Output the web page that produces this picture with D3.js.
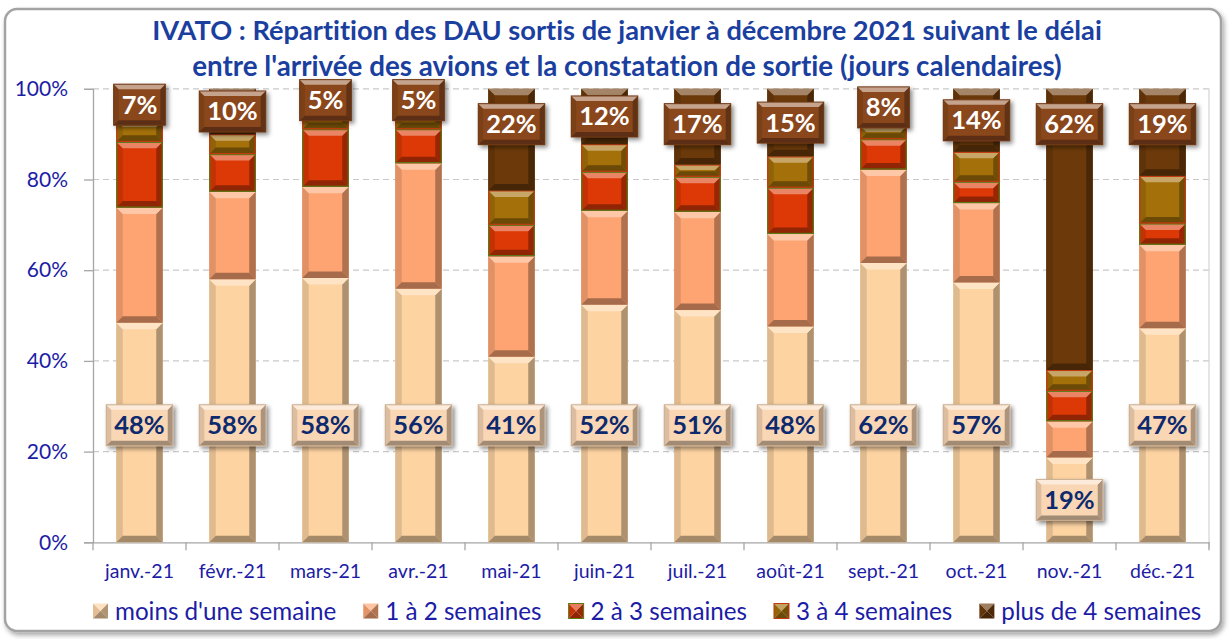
<!DOCTYPE html>
<html>
<head>
<meta charset="utf-8">
<script src="https://cdn.jsdelivr.net/npm/d3@7"></script>
<style>
  html, body { margin: 0; padding: 0; background: #ffffff; }
  svg { display: block; }
  text { font-variant-ligatures: none; font-feature-settings: "liga" 0; }
</style>
</head>
<body>
<svg id="chart" width="1229" height="639"></svg>
<script>
// ---- data -------------------------------------------------------------
const months = ["janv.-21", "févr.-21", "mars-21", "avr.-21", "mai-21", "juin-21",
                "juil.-21", "août-21", "sept.-21", "oct.-21", "nov.-21", "déc.-21"];
const seriesNames = ["moins d'une semaine", "1 à 2 semaines", "2 à 3 semaines",
                     "3 à 4 semaines", "plus de 4 semaines"];
// share of DAU (%) per delay class, per month
const moinsUneSemaine = [48.4, 58.0, 58.3, 55.9, 40.9, 52.4, 51.2, 47.6, 61.6, 57.3, 18.7, 47.2];
const unADeuxSemaines = [25.4, 19.3, 20.1, 27.7, 22.2, 20.7, 21.7, 20.4, 20.6, 17.5, 8.0, 18.4];
const deuxATroisSemaines = [14.5, 8.3, 12.7, 7.5, 6.9, 8.6, 7.7, 10.2, 6.7, 4.7, 6.7, 4.7];
const troisAQuatreSemaines = [4.7, 4.4, 3.9, 3.9, 7.6, 6.1, 2.7, 6.9, 2.9, 6.6, 4.6, 10.5];
const plusDeQuatreSemaines = [7.0, 10.0, 5.0, 5.0, 22.4, 12.2, 16.7, 14.9, 8.2, 13.9, 62.0, 19.2];
const yTickValues = [0, 20, 40, 60, 80, 100];
const titleLines = ["IVATO : Répartition des DAU sortis de janvier à décembre 2021 suivant le délai",
                    "entre l'arrivée des avions et la constatation de sortie (jours calendaires)"];

// ---- styling ----------------------------------------------------------
const faces = ["#fdd3a2", "#fea472", "#dc3906", "#a4700a", "#6c3a0a"];
const outlines = [null, null, "#5c7a18", "#c23a10", null];
const textBlue = "#1c1ca6";
const titleBlue = "#1b3f9f";
const FONT = "Lato, 'Open Sans', 'DejaVu Sans', sans-serif";

const svg = d3.select("#chart");
const margin = { left: 93, top: 88.8 };
const plotRight = 1209;
const plotBottom = 542.3;

const defs = svg.append("defs");
const shadow = defs.append("filter").attr("id", "boxShadow")
  .attr("x", "-20%").attr("y", "-20%").attr("width", "150%").attr("height", "160%");
shadow.append("feDropShadow").attr("dx", 2.5).attr("dy", 2.5).attr("stdDeviation", 2)
  .attr("flood-color", "#000").attr("flood-opacity", 0.45);
const frameShadow = defs.append("filter").attr("id", "frameShadow")
  .attr("x", "-5%").attr("y", "-5%").attr("width", "110%").attr("height", "110%");
frameShadow.append("feDropShadow").attr("dx", 2).attr("dy", 3).attr("stdDeviation", 2.5)
  .attr("flood-color", "#000").attr("flood-opacity", 0.35);

// outer chart frame
svg.append("rect")
  .attr("x", 5).attr("y", 9).attr("width", 1216).attr("height", 622)
  .attr("rx", 12).attr("fill", "#ffffff")
  .attr("stroke", "#a3a3a3").attr("stroke-width", 2.5)
  .attr("filter", "url(#frameShadow)");

// ---- scales -----------------------------------------------------------
const x = d3.scaleBand().domain(months)
  .range([margin.left, plotRight]).paddingInner(0.5).paddingOuter(0.25);
const y = d3.scaleLinear().domain([0, 100]).range([plotBottom, margin.top]);

// gridlines
svg.append("g").selectAll("line").data(yTickValues.filter(v => v > 0)).join("line")
  .attr("x1", margin.left).attr("x2", plotRight)
  .attr("y1", d => y(d)).attr("y2", d => y(d))
  .attr("stroke", "#c9c9c9").attr("stroke-width", 1.2).attr("stroke-dasharray", "6,4");

// plot-area right edge
svg.append("line").attr("x1", plotRight).attr("x2", plotRight)
  .attr("y1", margin.top).attr("y2", plotBottom + 6)
  .attr("stroke", "#d4d4d4").attr("stroke-width", 1.2);

// ---- axes -------------------------------------------------------------
const yAxis = svg.append("g").attr("transform", `translate(${margin.left},0)`)
  .call(d3.axisLeft(y).tickValues(yTickValues).tickSize(9).tickFormat(d => d + "%"));
yAxis.select(".domain").attr("stroke", "#a6a6a6").attr("stroke-width", 1.3);
yAxis.selectAll(".tick line").attr("stroke", "#a6a6a6").attr("stroke-width", 1.3);
yAxis.selectAll(".tick text").attr("x", -25)
  .attr("fill", textBlue).attr("font-family", FONT).attr("font-size", 21);

const xAxis = svg.append("g").attr("transform", `translate(0,${plotBottom})`)
  .call(d3.axisBottom(x).tickSize(0).tickPadding(22));
xAxis.select(".domain").attr("stroke", "#a6a6a6").attr("stroke-width", 1.3);
xAxis.selectAll(".tick text").attr("fill", textBlue)
  .attr("font-family", FONT).attr("font-size", 19.5);
// category separator ticks
const step = x.step();
svg.append("g").selectAll("line").data(d3.range(months.length + 1)).join("line")
  .attr("x1", i => margin.left + i * step).attr("x2", i => margin.left + i * step)
  .attr("y1", plotBottom).attr("y2", plotBottom + 8)
  .attr("stroke", "#a6a6a6").attr("stroke-width", 1.3);

// ---- stacked bars -----------------------------------------------------
const seriesArrays = [moinsUneSemaine, unADeuxSemaines, deuxATroisSemaines,
                      troisAQuatreSemaines, plusDeQuatreSemaines];
const rows = months.map((m, i) => {
  const r = { month: m };
  seriesNames.forEach((s, k) => { r[s] = seriesArrays[k][i]; });
  return r;
});
const stacked = d3.stack().keys(seriesNames)(rows);

// draws a bevelled (raised) rectangle
function bevelRect(g, x0, y0, w, h, face, b, opts = {}) {
  const top = d3.interpolateRgb(face, "#ffffff")(opts.topLight ?? 0.38);
  const left = d3.color(face).darker(0.35).formatHex();
  const right = d3.color(face).darker(1.05).formatHex();
  const bottom = d3.color(face).darker(1.2).formatHex();
  b = Math.max(0, Math.min(b, h / 2.2, w / 2.2));
  const x1 = x0 + w, y1 = y0 + h;
  g.append("rect").attr("x", x0).attr("y", y0).attr("width", w).attr("height", h)
    .attr("fill", face);
  const poly = (pts, fill) => g.append("polygon")
    .attr("points", pts.map(p => p.join(",")).join(" ")).attr("fill", fill);
  poly([[x0, y0], [x0 + b, y0 + b], [x0 + b, y1 - b], [x0, y1]], left);
  poly([[x1, y0], [x1 - b, y0 + b], [x1 - b, y1 - b], [x1, y1]], right);
  poly([[x0, y0], [x1, y0], [x1 - b, y0 + b], [x0 + b, y0 + b]], top);
  poly([[x0, y1], [x1, y1], [x1 - b, y1 - b], [x0 + b, y1 - b]], bottom);
  if (opts.stroke) {
    g.append("rect").attr("x", x0 + 0.5).attr("y", y0 + 0.5)
      .attr("width", Math.max(0, w - 1)).attr("height", Math.max(0, h - 1))
      .attr("fill", "none").attr("stroke", opts.stroke).attr("stroke-width", 1.2);
  }
}

const barLayer = svg.append("g");
stacked.forEach((layer, k) => {
  layer.forEach((d, i) => {
    const g = barLayer.append("g");
    const y0 = y(d[1]), y1 = y(d[0]);
    bevelRect(g, x(months[i]), y0, x.bandwidth(), y1 - y0, faces[k], 6.5,
              { stroke: outlines[k] });
  });
});

// ---- value labels -----------------------------------------------------
const labelLayer = svg.append("g");
function valueLabel(cx, cy, txt, face, color) {
  const g = labelLayer.append("g").attr("filter", "url(#boxShadow)");
  const t = labelLayer.append("text").text(txt)
    .attr("font-family", FONT).attr("font-weight", 700).attr("font-size", 25.5)
    .attr("text-anchor", "middle").attr("x", cx).attr("y", cy + 9)
    .attr("fill", color);
  const tw = t.node().getComputedTextLength();
  const bw = tw + 16, bh = 41;
  bevelRect(g, cx - bw / 2, cy - bh / 2, bw, bh, face, 5, { topLight: 0.5 });
  g.append("rect").attr("x", cx - bw / 2).attr("y", cy - bh / 2)
    .attr("width", bw).attr("height", bh).attr("fill", "none")
    .attr("stroke", d3.color(face).darker(0.6)).attr("stroke-width", 1);
  t.raise();
}

months.forEach((m, i) => {
  const cx = x(m) + x.bandwidth() / 2;
  const low = moinsUneSemaine[i];
  const lowPos = low >= 30 ? 25.8 : low / 2;
  valueLabel(cx, y(lowPos), Math.round(low) + "%", "#f9d6b4", "#0d2a6e");
  const high = plusDeQuatreSemaines[i];
  const highPos = Math.max(100 - high / 2, 92.2);
  valueLabel(cx, y(highPos), Math.round(high) + "%", "#8b471b", "#ffffff");
});

// ---- title ------------------------------------------------------------
const titleY = [40, 76], titleW = [950, 870];
titleLines.forEach((line, i) => {
  const t = svg.append("text").text(line)
    .attr("x", 627).attr("y", titleY[i]).attr("text-anchor", "middle")
    .attr("font-family", FONT).attr("font-weight", 700).attr("font-size", 26)
    .attr("fill", titleBlue);
  const w = t.node().getComputedTextLength();
  t.attr("font-size", 26 * titleW[i] / w);
});

// ---- legend -----------------------------------------------------------
const legend = svg.append("g");
let lx = 93;
const ly = 612;
seriesNames.forEach((name, k) => {
  const s = 15, cx = lx + s / 2, cy = ly - 1;
  const face = faces[k];
  const tri = (pts, fill) => legend.append("polygon")
    .attr("points", pts.map(p => p.join(",")).join(" ")).attr("fill", fill);
  const x0 = lx, y0 = cy - s / 2, x1 = lx + s, y1 = cy + s / 2;
  tri([[x0, y0], [x1, y0], [cx, cy]], d3.interpolateRgb(face, "#fff")(0.35));
  tri([[x0, y0], [x0, y1], [cx, cy]], d3.color(face).darker(0.3).formatHex());
  tri([[x1, y0], [x1, y1], [cx, cy]], d3.color(face).darker(1.0).formatHex());
  tri([[x0, y1], [x1, y1], [cx, cy]], d3.color(face).darker(1.2).formatHex());
  if (outlines[k]) {
    legend.append("rect").attr("x", x0).attr("y", y0).attr("width", s).attr("height", s)
      .attr("fill", "none").attr("stroke", outlines[k]).attr("stroke-width", 1);
  }
  const t = legend.append("text").text(name)
    .attr("x", lx + 22).attr("y", ly + 8)
    .attr("font-family", FONT).attr("font-size", 24.2)
    .attr("fill", textBlue);
  lx = lx + 22 + t.node().getComputedTextLength() + 27;
});
</script>
</body>
</html>
